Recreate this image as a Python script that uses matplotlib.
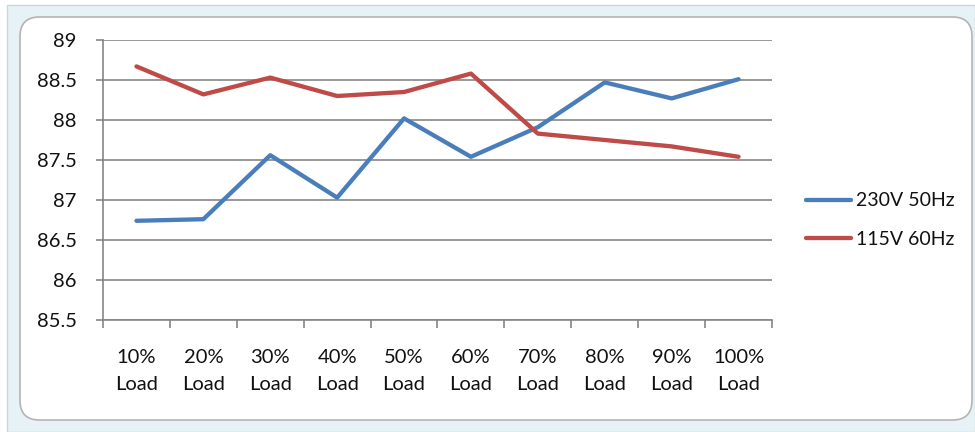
import matplotlib.pyplot as plt
from matplotlib.patches import FancyBboxPatch, Rectangle

# Efficiency (%) by load
loads = ['10%\nLoad', '20%\nLoad', '30%\nLoad', '40%\nLoad', '50%\nLoad',
         '60%\nLoad', '70%\nLoad', '80%\nLoad', '90%\nLoad', '100%\nLoad']
eff_230v = [86.74, 86.76, 87.56, 87.03, 88.02, 87.54, 87.91, 88.47, 88.27, 88.51]
eff_115v = [88.67, 88.32, 88.53, 88.30, 88.35, 88.58, 87.83, 87.75, 87.67, 87.54]
y_ticks = [85.5, 86, 86.5, 87, 87.5, 88, 88.5, 89]

plt.rcParams['font.family'] = ['Lato', 'DejaVu Sans']

W, H = 975, 432
fig = plt.figure(figsize=(W / 100, H / 100), dpi=100)
fig.patch.set_facecolor('white')

# spreadsheet backdrop and the rounded chart area (kept behind the axes)
fig.patches.append(Rectangle((7 / W, 0), 1 - 7 / W, 1 - 5 / H, transform=fig.transFigure,
                             facecolor='#e6f2f6', edgecolor='#c9d6dc', lw=1, zorder=-3))
fig.patches.append(FancyBboxPatch((20 / W, 12 / H), 952 / W, 403 / H,
                                  boxstyle='round,pad=0,rounding_size=0.02',
                                  transform=fig.transFigure, facecolor='white',
                                  edgecolor='#b4b4b4', lw=1.2, zorder=-2,
                                  mutation_aspect=W / H))

ax = fig.add_axes([103 / W, 1 - 320 / H, (772 - 103) / W, (320 - 40) / H])
ax.set_facecolor('none')

x = range(len(loads))
ax.plot(x, eff_230v, color='#4a7ebb', lw=3.1, label='230V 50Hz', solid_capstyle='round', zorder=3)
ax.plot(x, eff_115v, color='#be4b48', lw=3.1, label='115V 60Hz', solid_capstyle='round', zorder=3)

ax.set_xlim(-0.5, len(loads) - 0.5)
ax.set_ylim(85.5, 89)
ax.set_yticks(y_ticks)
ax.set_yticklabels(['85.5', '86', '86.5', '87', '87.5', '88', '88.5', '89'])
ax.set_xticks(list(x))
ax.set_xticklabels(loads, linespacing=1.7)
ax.set_xticks([i - 0.5 for i in range(len(loads) + 1)], minor=True)

ax.grid(axis='y', color='#868686', lw=1.2)
ax.set_axisbelow(True)
for s in ['top', 'right']:
    ax.spines[s].set_visible(False)
for s in ['left', 'bottom']:
    ax.spines[s].set_color('#868686')
    ax.spines[s].set_linewidth(1.2)

ax.tick_params(axis='x', which='major', length=0, pad=21, labelsize=14.5, colors='#111111')
ax.tick_params(axis='x', which='minor', length=6, width=1.2, color='#868686')
ax.tick_params(axis='y', length=5, width=1.2, color='#868686', pad=14, labelsize=14.5,
               labelcolor='#111111')

leg = ax.legend(loc='center left', bbox_to_anchor=(1.025, 0.357), frameon=False, fontsize=14,
                handlelength=2.3, handletextpad=0.25, labelspacing=1.1)
for t in leg.get_texts():
    t.set_color('#111111')

fig.savefig('out.png', dpi=100)
